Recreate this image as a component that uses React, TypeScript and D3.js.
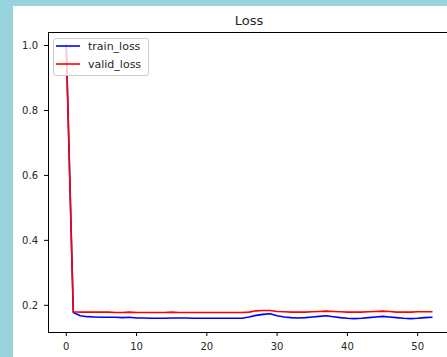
import React from "react";
import * as d3 from "d3";

const epochs: number[] = Array.from({ length: 53 }, (_, i) => i);
const trainLoss: number[] = [
  1.0, 0.178, 0.168, 0.165, 0.164, 0.163, 0.163, 0.163, 0.162, 0.163,
  0.161, 0.161, 0.160, 0.160, 0.160, 0.161, 0.161, 0.161, 0.160, 0.160,
  0.160, 0.160, 0.160, 0.160, 0.160, 0.160, 0.164, 0.169, 0.172, 0.174,
  0.168, 0.164, 0.162, 0.161, 0.162, 0.164, 0.166, 0.168, 0.165, 0.162,
  0.160, 0.159, 0.160, 0.162, 0.164, 0.166, 0.164, 0.162, 0.160, 0.159,
  0.160, 0.162, 0.163,
];
const validLoss: number[] = [
  1.0, 0.180, 0.179, 0.179, 0.179, 0.179, 0.179, 0.178, 0.178, 0.179,
  0.178, 0.178, 0.178, 0.178, 0.178, 0.179, 0.178, 0.178, 0.178, 0.178,
  0.178, 0.178, 0.178, 0.178, 0.178, 0.178, 0.179, 0.183, 0.184, 0.184,
  0.181, 0.180, 0.179, 0.179, 0.179, 0.180, 0.181, 0.182, 0.181, 0.180,
  0.179, 0.179, 0.179, 0.180, 0.181, 0.182, 0.181, 0.179, 0.179, 0.179,
  0.180, 0.180, 0.180,
];
const xTicks: number[] = [0, 10, 20, 30, 40, 50];
const yTicks: number[] = [0.2, 0.4, 0.6, 0.8, 1.0];
const seriesNames: string[] = ["train_loss", "valid_loss"];
const seriesColors: string[] = ["#0000ff", "#ff0000"];
const title = "Loss";

export default function App() {
  const W = 447, H = 357;
  const left = 48, right = 450, top = 32, bottom = 332;
  const x = d3.scaleLinear().domain([-2.6, 54.6]).range([left, right]);
  const y = d3.scaleLinear().domain([0.1178, 1.0416]).range([bottom, top]);
  const line = d3.line<number>().x((_, i) => x(epochs[i])).y((d) => y(d));
  const series = [trainLoss, validLoss];
  const font = "DejaVu Sans, sans-serif";
  const textColor = "#262626";
  return (
    <svg width={W} height={H} style={{ position: "absolute", left: 0, top: 0 }} fontFamily={font}>
      <rect x={0} y={0} width={W} height={H} fill="#96d3dc" />
      <rect x={13} y={6} width={W - 13} height={H - 6} fill="#ffffff" />
      <text x={(left + right) / 2} y={25} textAnchor="middle" fontSize={13} fill={textColor}>{title}</text>
      {series.map((s, k) => (
        <path key={k} d={line(s) || ""} fill="none" stroke={seriesColors[k]} strokeWidth={1.6} strokeLinejoin="round" strokeLinecap="square" />
      ))}
      <rect x={left} y={top} width={right - left} height={bottom - top} fill="none" stroke="#000" strokeWidth={1} shapeRendering="crispEdges" />
      {yTicks.map((t) => (
        <g key={t}>
          <line x1={left - 4} x2={left} y1={y(t)} y2={y(t)} stroke="#000" strokeWidth={1} />
          <text x={left - 10} y={y(t)} dy="0.35em" textAnchor="end" fontSize={10} fill={textColor}>{t.toFixed(1)}</text>
        </g>
      ))}
      {xTicks.map((t) => (
        <g key={t}>
          <line x1={x(t)} x2={x(t)} y1={bottom} y2={bottom + 4} stroke="#000" strokeWidth={1} />
          <text x={x(t)} y={bottom + 18} textAnchor="middle" fontSize={10} fill={textColor}>{t}</text>
        </g>
      ))}
      <rect x={53.5} y={38.5} width={95} height={37} rx={2.5} fill="#ffffff" fillOpacity={0.8} stroke="#cccccc" strokeWidth={1} />
      {seriesNames.map((n, k) => (
        <g key={n}>
          <line x1={56} x2={80} y1={46 + k * 18} y2={46 + k * 18} stroke={seriesColors[k]} strokeWidth={1.6} />
          <text x={88} y={46 + k * 18} dy="0.35em" fontSize={11} fill={textColor}>{n}</text>
        </g>
      ))}
    </svg>
  );
}
